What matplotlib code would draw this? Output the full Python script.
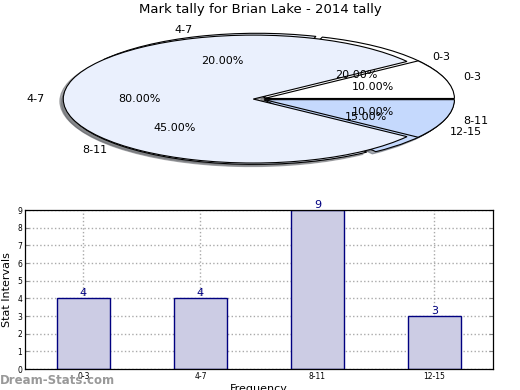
import matplotlib
matplotlib.use("Agg")
import matplotlib.pyplot as plt
import numpy as np

title = "Mark tally for Brian Lake - 2014 tally"
categories = ["0-3", "4-7", "8-11", "12-15"]
counts = [4, 4, 9, 3]

# second (overlaid) pie in the reference
pie2_labels = ["0-3", "4-7", "8-11"]
pie2_values = [10, 80, 10]

pie1_colors = ["white", "#eaf0fd", "#eaf0fd", "#c5d9fd"]
pie2_colors = ["white", "#eaf0fd", "#c5d9fd"]

fig = plt.figure(figsize=(5.2, 3.9), dpi=100)
fig.text(0.5, 0.975, title, ha="center", va="center", fontsize=9.5)

# pie axes (squashed ellipse)
axp = fig.add_axes([0.0413, 0.541, 0.9135, 0.410])
wp = dict(edgecolor="black", linewidth=0.8)
sh = dict(ox=-0.013, oy=-0.025, shade=0.6)
axp.pie(counts, labels=categories, colors=pie1_colors, autopct="%.2f%%",
        explode=[0.03] * len(counts), shadow=sh, startangle=0,
        counterclock=True, wedgeprops=wp, textprops=dict(fontsize=8))
axp.pie(pie2_values, labels=pie2_labels, colors=pie2_colors, autopct="%.2f%%",
        explode=[0.03] * len(pie2_values), shadow=sh, startangle=0,
        counterclock=True, wedgeprops=wp, textprops=dict(fontsize=8))
axp.set_aspect("auto")
axp.set_xlim(-1.25, 1.25)
axp.set_ylim(-1.25, 1.25)
axp.axis("off")

# bar axes
axb = fig.add_axes([0.048, 0.0538, 0.9, 0.4077])
x = np.arange(len(categories))
axb.bar(x, counts, width=0.45, color="#ccccE4", edgecolor="#000080", linewidth=1.0, zorder=2)
for xi, c in zip(x, counts):
    axb.text(xi, c, str(c), ha="center", va="bottom", color="#000080", fontsize=8, zorder=4)
axb.set_xlim(-0.5, len(categories) - 0.5)
axb.set_ylim(0, 9)
axb.set_yticks(range(0, 10))
axb.set_xticks(x)
axb.set_xticklabels(categories)
axb.tick_params(axis="both", direction="in", labelsize=5.5, length=3, pad=2,
                right=True, top=False, color="#888888")
axb.grid(True, linestyle=":", color="#aaaaaa", linewidth=1.0, zorder=1)
axb.set_axisbelow(True)
axb.set_ylabel("Stat Intervals", fontsize=8, labelpad=4)
axb.set_xlabel("Frequency", fontsize=8, labelpad=2)
for s in axb.spines.values():
    s.set_linewidth(0.9)

fig.text(0.0, 0.025, "Dream-Stats.com", fontsize=8.5, color="#999999",
         fontweight="bold", ha="left", va="center")

fig.savefig("out.png", dpi=100)
